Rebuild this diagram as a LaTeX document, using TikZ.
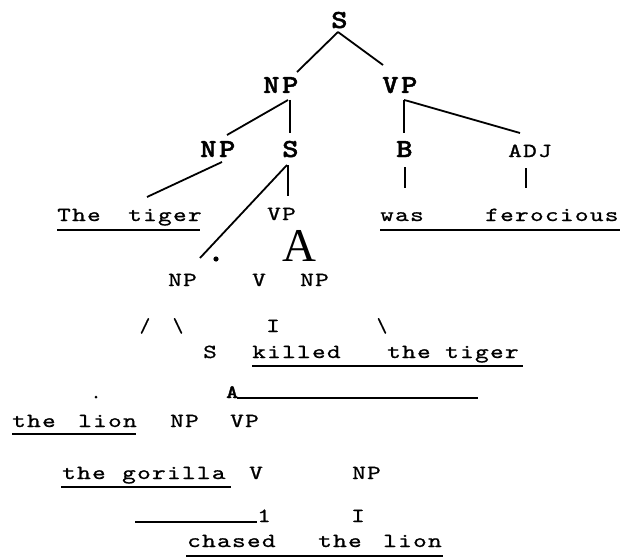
\documentclass[tikz,border=0pt]{standalone}
\usepackage{fontspec}
\usepackage{graphicx}
\usetikzlibrary{calc}
\newfontfamily\cour{lmmono10-regular}[Extension=.otf, LetterSpace=5, FakeBold=0.8]
\newfontfamily\courb{lmmonolt10-bold}[Extension=.otf, LetterSpace=8, FakeBold=1.5]
\newfontfamily\serifA{Liberation Serif}
\newcommand\cwide[1]{\scalebox{1.3}[1]{#1}}
\newcommand\bwide[1]{\scalebox{1.2}[1]{#1}}
\begin{document}
\begin{tikzpicture}[x=1pt,y=-1pt,
  tx/.style={anchor=base west, inner sep=0pt, font=\cour\fontsize{20}{20}\selectfont},
  tc/.style={anchor=base, inner sep=0pt, font=\cour\fontsize{20}{20}\selectfont},
  bx/.style={anchor=base west, inner sep=0pt, font=\courb\fontsize{26}{26}\selectfont},
  br/.style={line width=1.8pt},
  ul/.style={line width=2.4pt},
  dotf/.style={circle, fill=black, inner sep=0pt}]
\useasboundingbox (0,0) rectangle (623,559);
% rows 1-3 (bold labels)
\node[bx] (S0) at (331,28) {\bwide{S}};
\node[bx] (NPa) at (263,93) {\bwide{NP}};
\node[bx] (VPa) at (382,93) {\bwide{VP}};
\node[bx] (NPb) at (200,157) {\bwide{NP}};
\node[bx] (Sb) at (282,157) {\bwide{S}};
\node[bx] (Bb) at (396,157) {\bwide{B}};
\node[tx] (ADJ) at (508,157) {\cwide{ADJ}};
% row 4
\node[tx] (The) at (57,221) {\cwide{The}};
\node[tx] (tigerA) at (128,221) {\cwide{tiger}};
\node[tx] (VPc) at (267,220) {\cwide{VP}};
\node[tx] (was) at (380,221) {\cwide{was}};
\node[tx] (fero) at (485,221) {\cwide{ferocious}};
\node[anchor=base west, inner sep=0pt, font=\serifA\fontsize{47}{47}\selectfont] (bigA) at (282,261) {A};
\node[dotf, minimum size=5.2pt] (dotA) at (216,259) {};
% row 5
\node[tx] (NPd) at (168,286) {\cwide{NP}};
\node[tx] (Vd) at (252,286) {\cwide{V}};
\node[tx] (NPe) at (300,286) {\cwide{NP}};
% row 6
\node[tc] (sl1) at (145,332) {/};
\node[tc] (bs1) at (178,332) {\textbackslash};
\node[tc] (I6) at (273,332) {\cwide{I}};
\node[tc] (bs2) at (382,332) {\textbackslash};
% row 7
\node[tx] (S7) at (203,358) {\cwide{S}};
\node[tx] (killed) at (252,358) {\cwide{killed}};
\node[tx] (the7) at (387,358) {\cwide{the}};
\node[tx] (tiger7) at (445,358) {\cwide{tiger}};
% row 8
\node[anchor=base west, inner sep=0pt, font=\courb\fontsize{19}{19}\selectfont] (A8) at (226,398) {\bwide{A}};
\coordinate (A8e) at (478,398);
\node[dotf, minimum size=3pt] (dot8) at (96,397) {};
% row 9
\node[tx] (the9) at (12,427) {\cwide{the}};
\node[tx] (lion9) at (78,427) {\cwide{lion}};
\node[tx] (NP9) at (170,427) {\cwide{NP}};
\node[tx] (VP9) at (230,427) {\cwide{VP}};
% row 10
\node[tx] (the10) at (62,479) {\cwide{the}};
\node[tx] (gor10) at (122,479) {\cwide{gorilla}};
\node[tx] (V10) at (249,479) {\cwide{V}};
\node[tx] (NP10) at (352,479) {\cwide{NP}};
% row 11
\coordinate (L11) at (135,522);
\node[tx] (one11) at (257,522) {\cwide{1}};
\node[tc] (I11) at (358,522) {\cwide{I}};
% row 12
\node[tx] (chased) at (187,547) {\cwide{chased}};
\node[tx] (the12) at (318,547) {\cwide{the}};
\node[tx] (lion12) at (383,547) {\cwide{lion}};

% branches
\draw[br] ($(S0.base west)+(7,4)$) -- ($(NPa.base west)+(34,-21)$);
\draw[br] ($(S0.base west)+(7,4)$) -- ($(VPa.base west)+(1,-28)$);
\draw[br] ($(NPa.base west)+(25,7)$) -- ($(NPb.base west)+(27,-22)$);
\draw[br] ($(NPa.base west)+(27,7)$) -- ($(Sb.base west)+(8,-24)$);
\draw[br] ($(VPa.base west)+(22,7)$) -- ($(Bb.base west)+(8,-24)$);
\draw[br] ($(VPa.base west)+(22,7)$) -- ($(VPa.base west)+(26,8)$) -- ($(ADJ.base west)+(12,-24)$);
\draw[br] ($(NPb.base west)+(22,5)$) -- ($(tigerA.base west)+(19,-24)$);
\draw[br] ($(Sb.base west)+(5,8)$) -- ($(NPd.base west)+(32,-28)$);
\draw[br] ($(Sb.base west)+(6,8)$) -- ($(VPc.base west)+(21,-24)$);
\draw[br] ($(Bb.base west)+(9,10)$) -- ($(was.base west)+(25,-33)$);
\draw[line width=2.8pt] ($(ADJ.base west)+(18,11)$) -- ($(fero.base west)+(41,-33)$);

% underlines and rules
\draw[ul] (57,230) -- (200,230);
\draw[ul] (380,230) -- (620,230);
\draw[ul] (252,366) -- (523,366);
\draw[line width=2pt] ($(A8.base west)+(11,0)$) -- (A8e);
\draw[ul] (12,434) -- (136,434);
\draw[ul] (61,487) -- (231,487);
\draw[line width=2pt] (L11) -- (one11.base west);
\draw[ul] (186,556) -- (443,556);
\end{tikzpicture}
\end{document}
